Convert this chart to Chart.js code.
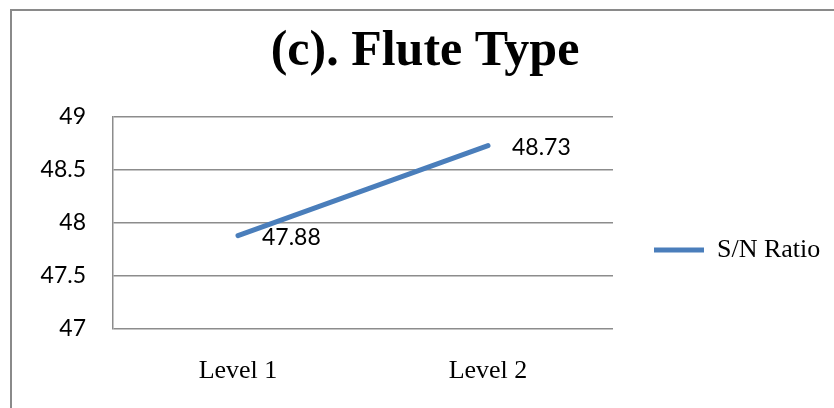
<!DOCTYPE html>
<html>
<head>
<meta charset="utf-8">
<script src="https://cdn.jsdelivr.net/npm/chart.js@4/dist/chart.umd.min.js"></script>
<style>
  html, body { margin: 0; padding: 0; background: #fff; overflow: hidden; }
  #wrap { position: relative; width: 834px; height: 408px; }
  #frame {
    position: absolute; left: 10px; top: 9px; width: 900px; height: 500px;
    border-left: 2px solid #8a8a8a; border-top: 2px solid #8a8a8a;
  }
  #chart { position: absolute; left: 0; top: 0; }
</style>
</head>
<body>
<div id="wrap">
  <div id="frame"></div>
  <canvas id="chart" width="834" height="408"></canvas>
</div>
<script>
/* datos */
const levels = ['Level 1', 'Level 2'];
const snRatio = [47.88, 48.73];
const yTicks = [47, 47.5, 48, 48.5, 49];

const LINE_COLOR = '#4a7ebb';
const GRID_COLOR = '#8c8c8c';
const SERIF = '"Liberation Serif", "Times New Roman", serif';
const SANS = 'Lato, "Liberation Sans", sans-serif';

/* etiquetas de valor a la derecha de cada punto */
const valueLabels = {
  id: 'valueLabels',
  afterDatasetsDraw(chart) {
    const { ctx } = chart;
    const meta = chart.getDatasetMeta(0);
    ctx.save();
    ctx.font = '23px ' + SANS;
    ctx.fillStyle = '#000';
    ctx.textAlign = 'left';
    ctx.textBaseline = 'middle';
    meta.data.forEach((pt, i) => {
      ctx.fillText(snRatio[i].toFixed(2), pt.x + 24, pt.y + 2);
    });
    ctx.restore();
  }
};

/* la leyenda de la derecha necesita mas ancho que el limite del layout */
const legendWidth = {
  id: 'legendWidth',
  beforeLayout(chart) {
    const legend = chart.legend;
    if (!legend || legend._widthPatched) return;
    const fit = legend.fit;
    legend.fit = function () {
      fit.call(this);
      this.width = 221;
    };
    legend._widthPatched = true;
  }
};

new Chart(document.getElementById('chart'), {
  type: 'line',
  data: {
    labels: levels,
    datasets: [{
      label: 'S/N Ratio',
      data: snRatio,
      borderColor: LINE_COLOR,
      backgroundColor: LINE_COLOR,
      borderWidth: 5,
      borderCapStyle: 'round',
      pointRadius: 0,
      tension: 0,
      fill: false
    }]
  },
  options: {
    responsive: false,
    animation: false,
    layout: { padding: { left: 16, right: 0, top: 0, bottom: 0 } },
    plugins: {
      title: {
        display: true,
        text: '(c). Flute Type',
        color: '#000',
        font: { family: SERIF, size: 50, weight: 'bold' },
        padding: { top: 22, bottom: 35 }
      },
      legend: {
        display: true,
        position: 'right',
        title: {
          display: true,
          text: ' ',
          font: { size: 1, lineHeight: 1 },
          padding: { top: 91, bottom: 0 }
        },
        labels: {
          color: '#000',
          font: { family: SERIF, size: 26 },
          boxWidth: 50,
          boxHeight: 5,
          padding: 41,
          generateLabels: () => [{
            text: 'S/N Ratio',
            fillStyle: LINE_COLOR,
            strokeStyle: LINE_COLOR,
            fontColor: '#000',
            lineWidth: 0,
            datasetIndex: 0
          }]
        }
      },
      tooltip: { enabled: false }
    },
    scales: {
      x: {
        offset: true,
        afterFit(scale) { scale.height = 79; },
        grid: { display: false, drawTicks: false },
        border: { display: false },
        ticks: {
          color: '#000',
          font: { family: SERIF, size: 26 },
          padding: 27
        }
      },
      y: {
        min: 47,
        max: 49,
        afterFit(scale) { scale.width = 97; },
        afterBuildTicks(scale) { scale.ticks = yTicks.map(v => ({ value: v })); },
        grid: { color: GRID_COLOR, lineWidth: 1.5, drawTicks: false },
        border: { display: true, color: GRID_COLOR, width: 1.5 },
        ticks: {
          color: '#000',
          font: { family: SANS, size: 23 },
          padding: 27,
          callback: v => String(v)
        }
      }
    }
  },
  plugins: [valueLabels, legendWidth]
});
</script>
</body>
</html>
